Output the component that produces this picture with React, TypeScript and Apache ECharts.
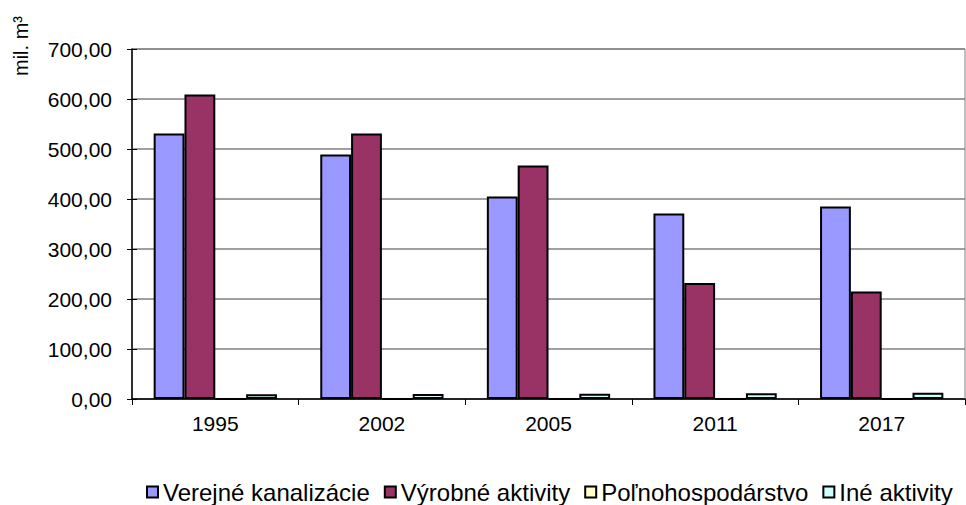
import React, { useEffect, useRef } from "react";
import * as echarts from "echarts";

const categories = ["1995", "2002", "2005", "2011", "2017"];
const verejneKanalizacie = [531, 489, 405, 371, 385];
const vyrobneAktivity = [609, 531, 467, 232, 215];
const polnohospodarstvo = [0.5, 0.5, 0.4, 0.4, 0.4];
const ineAktivity = [9.5, 10, 10.5, 11.5, 12.5];
const seriesNames = ["Verejné kanalizácie", "Výrobné aktivity", "Poľnohospodárstvo", "Iné aktivity"];
const seriesColors = ["#9999FF", "#993366", "#FFFFCC", "#CCFFFF"];
const yAxisTitle = "mil. m³";

const FONT = "'Liberation Sans', Arial, Helvetica, sans-serif";

export default function App() {
  const ref = useRef<HTMLDivElement>(null);
  useEffect(() => {
    document.body.style.margin = "0";
    if (!ref.current) return;
    const chart = echarts.init(ref.current, null, { renderer: "svg" });
    const data = [verejneKanalizacie, vyrobneAktivity, polnohospodarstvo, ineAktivity];
    chart.setOption({
      animation: false,
      backgroundColor: "#ffffff",
      textStyle: { fontFamily: FONT, color: "#000" },
      grid: { left: 132, right: 1, top: 49, bottom: 106, containLabel: false, show: true, borderColor: "#808080", borderWidth: 1 },
      legend: {
        left: 141,
        top: 475,
        itemWidth: 11,
        itemHeight: 11,
        itemGap: 14,
        icon: "rect",
        textStyle: { fontFamily: FONT, fontSize: 24, color: "#000" },
        data: seriesNames,
      },
      graphic: [
        {
          type: "text",
          x: 21,
          y: 46,
          rotation: Math.PI / 2,
          style: {
            text: yAxisTitle,
            fontFamily: FONT,
            fontSize: 20,
            fill: "#000",
            textAlign: "center",
            textVerticalAlign: "middle",
          },
        },
      ],
      xAxis: {
        type: "category",
        data: categories,
        axisLine: { show: true, lineStyle: { color: "#000", width: 1.5 } },
        axisTick: { show: true, alignWithLabel: false, length: 6, lineStyle: { color: "#000" } },
        axisLabel: { fontFamily: FONT, fontSize: 21, color: "#000", margin: 14 },
        splitLine: { show: false },
      },
      yAxis: [
        {
          type: "value",
          min: 0,
          max: 700,
          interval: 100,
          position: "left",
          axisLine: { show: true, lineStyle: { color: "#000", width: 1.5 } },
          axisTick: { show: true, length: 5, lineStyle: { color: "#000" } },
          axisLabel: {
            fontFamily: FONT,
            fontSize: 21,
            color: "#000",
            margin: 20,
            formatter: (v: number) => v.toFixed(2).replace(".", ","),
          },
          splitLine: { show: true, lineStyle: { color: "#808080", width: 1.5 } },
        },
        {
          type: "value",
          min: 0,
          max: 700,
          interval: 100,
          position: "left",
          axisLine: { show: false },
          axisTick: { show: true, inside: true, length: 5, lineStyle: { color: "#000" } },
          axisLabel: { show: false },
          splitLine: { show: false },
        },
      ],
      series: seriesNames.map((name, i) => ({
        name,
        type: "bar",
        data: data[i],
        barGap: "0%",
        barCategoryGap: "26%",
        itemStyle: { color: seriesColors[i], borderColor: "#000", borderWidth: 2 },
      })),
    });
    return () => chart.dispose();
  }, []);
  return <div ref={ref} style={{ width: 966, height: 505 }} />;
}
